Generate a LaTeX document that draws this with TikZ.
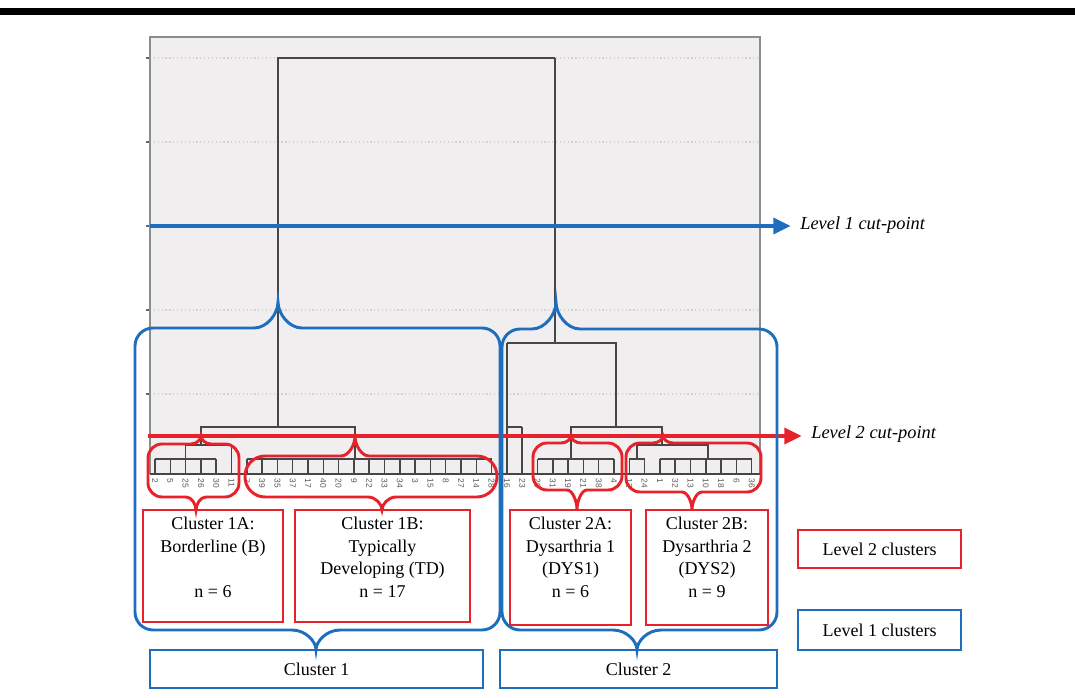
\documentclass[tikz,border=0pt]{standalone}
\usepackage{fontspec}
\setmainfont{Liberation Serif}
\newfontfamily\leaffont{Liberation Sans}
\usepackage{tikz}
\usetikzlibrary{arrows.meta,positioning}
\definecolor{lvlblue}{RGB}{31,110,190}
\definecolor{lvlred}{RGB}{232,34,42}
\definecolor{panelgray}{RGB}{240,238,238}
\definecolor{treegray}{RGB}{70,70,70}
% closed outline with one brace tip up and one brace tip down
% #1 style, #2/#3 top left, #4/#5 bottom right, #6/#7 top tip, #8/#9 bottom tip
\def\brr{14}\def\brd{10}
\newcommand{\bracebox}[9]{%
  \draw[#1] (#2,{#3+\brr}) .. controls (#2,{#3+0.45*\brr}) and ({#2+0.45*\brr},#3) .. ({#2+\brr},#3)
    -- ({#6-\brd},#3) .. controls ({#6-0.45*\brd},#3) and (#6,{#7+0.45*(#3-#7)}) .. (#6,#7)
    .. controls (#6,{#7+0.45*(#3-#7)}) and ({#6+0.45*\brd},#3) .. ({#6+\brd},#3)
    -- ({#4-\brr},#3) .. controls ({#4-0.45*\brr},#3) and (#4,{#3+0.45*\brr}) .. (#4,{#3+\brr})
    -- (#4,{#5-\brr}) .. controls (#4,{#5-0.45*\brr}) and ({#4-0.45*\brr},#5) .. ({#4-\brr},#5)
    -- ({#8+\brd},#5) .. controls ({#8+0.45*\brd},#5) and (#8,{#9-0.45*(#9-#5)}) .. (#8,#9)
    .. controls (#8,{#9-0.45*(#9-#5)}) and ({#8-0.45*\brd},#5) .. ({#8-\brd},#5)
    -- ({#2+\brr},#5) .. controls ({#2+0.45*\brr},#5) and (#2,{#5-0.45*\brr}) .. (#2,{#5-\brr})
    -- cycle;}

\begin{document}
\begin{tikzpicture}[x=0.75pt, y=-0.75pt,
  tree/.style={draw=treegray, line width=1.1pt},
  grid/.style={draw=black!18, dotted, line width=0.9pt},
  leaflab/.style={font=\leaffont\fontsize{6.3}{6.3}\selectfont, text=black!65,
    rotate=-90, anchor=west, inner sep=0.5pt},
  redshape/.style={draw=lvlred, line width=2.2pt},
  blueshape/.style={draw=lvlblue, line width=2.2pt},
  redbox/.style={draw=lvlred, line width=2pt, inner sep=0pt},
  bluebox/.style={draw=lvlblue, line width=2pt, inner sep=0pt,
    font=\fontsize{13.5}{17}\selectfont},
  boxtext/.style={align=center, font=\fontsize{13.5}{17}\selectfont, inner sep=0pt},
  cutlab/.style={font=\itshape\fontsize{13.8}{16}\selectfont, inner sep=0pt, anchor=west}]
  \useasboundingbox (0,0) rectangle (1075,698);
  \draw[line width=5.2pt] (0,11.5) -- (1075,11.5);

  % dendrogram panel
  \fill[panelgray] (150,37) rectangle (760,474);
  \foreach \gy in {58,142,226,310,394} {
    \draw[grid] (150,\gy) -- (760,\gy);
    \draw[black!60, line width=0.8pt] (146,\gy) -- (150,\gy);
  }
  \draw[black!45, line width=1.1pt] (150,474) -- (150,37) -- (760,37) -- (760,474);
  \draw[treegray, line width=1pt] (150,474) -- (760,474);

  % leaves
  \foreach \lab [count=\i from 0] in {2,5,25,26,30,11,7,39,35,37,17,40,20,9,22,33,34,
      3,15,8,27,14,28,16,23,29,31,19,21,38,4,12,24,1,32,13,10,18,6,36} {
    \coordinate (lf\i) at ({155+15.3*\i},474);
    \node[leaflab] (leaf\i) at ({155+15.3*\i},478) {\lab};
  }
  \foreach \i in {0,...,4,6,7,...,22,25,26,...,39}
    \draw[tree] (lf\i) -- ++(0,-15);
  \draw[tree] (lf5) -- ++(0,-29);
  \draw[tree] (lf23) -- ++(0,-131);
  \draw[tree] (lf24) -- ++(0,-47);

  % cluster 1
  \draw[tree] (155,459) -- (216.2,459);
  \draw[tree] (185.6,459) -- (185.6,445) -- (231.5,445);
  \draw[tree] (201,445) -- (201,427) -- (355,427) -- (355,459);
  \draw[tree] (246.8,459) -- (491.6,459);
  \draw[tree] (278,427) -- (278,58) -- (555,58);
  % cluster 2
  \draw[tree] (506.9,427) -- (522.2,427);
  \draw[tree] (537.5,459) -- (614,459);
  \draw[tree] (629.3,459) -- (644.6,459);
  \draw[tree] (659.9,459) -- (751.7,459);
  \draw[tree] (637,459) -- (637,445) -- (708,445) -- (708,459);
  \draw[tree] (571,459) -- (571,427) -- (662,427) -- (662,445);
  \draw[tree] (616,427) -- (616,343) -- (506.9,343);
  \draw[tree] (555,343) -- (555,58);

  % cut-points
  \coordinate (cutone) at (150,226);
  \coordinate (cuttwo) at (148,436);
  \node[cutlab] (levone) at (800,225) {Level 1 cut-point};
  \node[cutlab] (levtwo) at (811,434) {Level 2 cut-point};
  \draw[lvlred, line width=2.4pt, -{Triangle[length=13pt,width=12pt]}, shorten >=7pt]
    (cuttwo) -- (cuttwo -| levtwo.west);
  \draw[lvlblue, line width=2.4pt, -{Triangle[length=13pt,width=12pt]}, shorten >=7pt]
    (cutone) -- (cutone -| levone.west);

  % level 2 outlines
  \bracebox{redshape}{148}{444}{239}{497}{201}{436}{196}{510}
  \bracebox{redshape}{533}{443}{622}{490}{571}{436}{577}{510}
  \bracebox{redshape}{626}{443}{761}{492}{663}{436}{692}{510}
  \def\brr{20}\def\brd{14}
  \bracebox{redshape}{245}{456}{497}{497}{355}{436}{382}{510}
  % level 1 outlines
  \def\brr{18}\def\brd{24}
  \bracebox{blueshape}{135}{328}{500}{630}{278}{302}{316}{650}
  \bracebox{blueshape}{502}{329}{777}{630}{556}{302}{637}{650}

  % level 2 clusters
  \node[redbox, minimum width=105pt, minimum height=84pt] (c1a) at (213,566) {};
  \node[redbox, minimum width=131.25pt, minimum height=84pt] (c1b) at (382.5,566) {};
  \node[redbox, minimum width=90.75pt, minimum height=86.25pt] (c2a) at (570.5,567.5) {};
  \node[redbox, minimum width=91.5pt, minimum height=86.25pt] (c2b) at (707,567.5) {};
  \node[boxtext, below=6pt of c1a.north] (t1a) {Cluster 1A:\\Borderline (B)\\[17pt]n = 6};
  \node[boxtext, below=6pt of c1b.north] (t1b) {Cluster 1B:\\Typically\\Developing (TD)\\n = 17};
  \node[boxtext, below=6pt of c2a.north] (t2a) {Cluster 2A:\\Dysarthria 1\\(DYS1)\\n = 6};
  \node[boxtext, below=6pt of c2b.north] (t2b) {Cluster 2B:\\Dysarthria 2\\(DYS2)\\n = 9};

  % level 1 clusters
  \node[bluebox, minimum width=249.75pt, minimum height=28.5pt] (c1) at (316.5,669) {Cluster 1};
  \node[bluebox, minimum width=207.75pt, minimum height=28.5pt] (c2) at (638.5,669) {Cluster 2};

  % legend
  \node[redbox, font=\fontsize{13.5}{17}\selectfont, minimum width=122.25pt,
    minimum height=28.5pt] (leg2) at (879.5,549) {Level 2 clusters};
  \node[bluebox, minimum width=122.25pt, minimum height=30pt] (leg1) at (879.5,630)
    {Level 1 clusters};
\end{tikzpicture}
\end{document}
